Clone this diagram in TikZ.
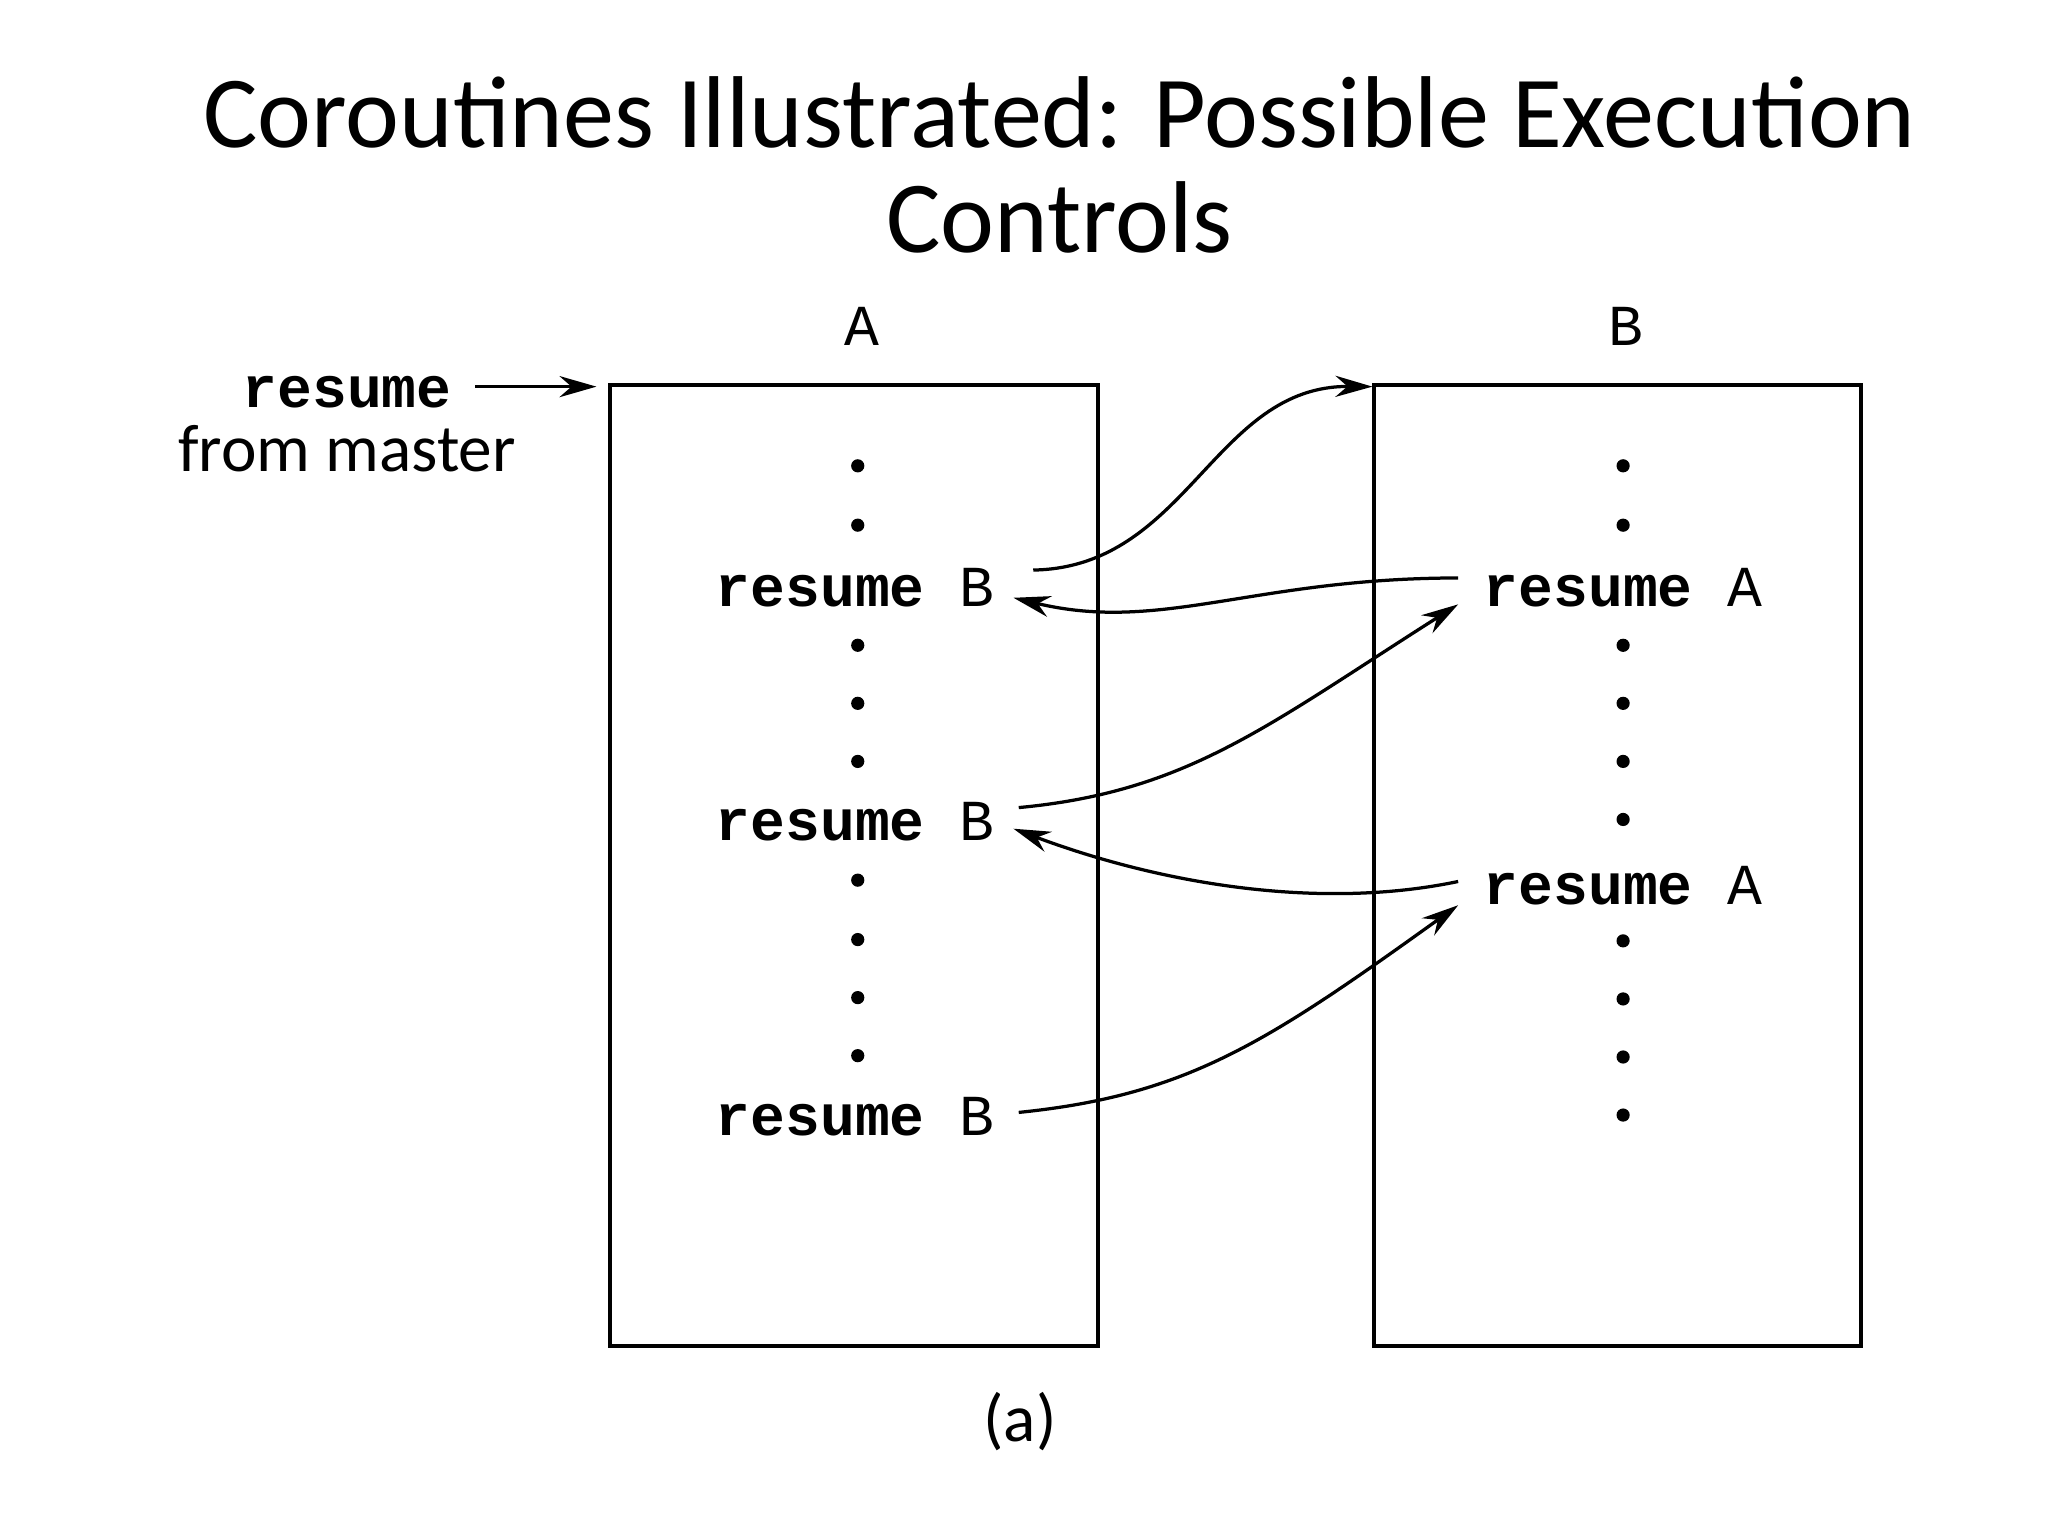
\documentclass[tikz,border=0pt]{standalone}
\usepackage{fontspec}
\setmainfont{Carlito}
\newfontfamily\cmono{Liberation Mono}
\usetikzlibrary{arrows.meta}
\begin{document}
\begin{tikzpicture}[x=0.01cm,y=-0.01cm,
  box/.style={draw,line width=0.9pt},
  code/.style={font=\cmono\fontsize{12.5}{14}\selectfont,inner sep=0pt},
  dotn/.style={circle,fill,inner sep=0pt,minimum size=0.1cm},
  arr/.style={-{Stealth[length=0.28cm,width=0.16cm]},line width=0.7pt}]
\useasboundingbox (0,0) rectangle (1552,1164);
\node (t1) at (803,85) {\fontsize{22}{26}\selectfont Coroutines Illustrated: Possible Execution};
\node (t2) at (803,165) {\fontsize{22}{26}\selectfont Controls};
\draw[box] (462,292) rectangle (832,1020);
\draw[box] (1041,292) rectangle (1410,1020);
\node[code] (la) at (653,247) {A};
\node[code] (lb) at (1232,247) {B};
\node[code] (rm) at (263,297) {\bfseries resume};
\node[font=\fontsize{14.5}{17}\selectfont,inner sep=0pt] (fm) at (263,340) {from master};
\coordinate (m1) at (360,293); \coordinate (m2) at (452,293);
\draw[arr] (m1) -- (m2);
\foreach \y [count=\i] in {353,398,489,533,577,667,712,756,800} \node[dotn] (da\i) at (650,\y) {};
\foreach \y [count=\i] in {353,398,489,533,577,621,713,757,801,845} \node[dotn] (db\i) at (1230,\y) {};
\node[code] (rb1) at (648,445) {\textbf{resume} B};
\node[code] (rb2) at (648,623) {\textbf{resume} B};
\node[code] (rb3) at (648,846) {\textbf{resume} B};
\node[code] (ra1) at (1230,445) {\textbf{resume} A};
\node[code] (ra2) at (1230,671) {\textbf{resume} A};
\coordinate (bt) at (1040,293);
\draw[arr] (783,432) .. controls (900,430) and (920,292) .. (bt);
\draw[arr] (1105,438) .. controls (950,438) and (880,480) .. (768,453);
\draw[arr] (772,612) .. controls (900,600) and (960,550) .. (1105,458);
\draw[arr] (1105,668) .. controls (1000,690) and (880,670) .. (768,628);
\draw[arr] (772,843) .. controls (900,830) and (960,790) .. (1105,686);
\node[font=\fontsize{14.5}{17}\selectfont] (cap) at (773,1077) {(a)};
\end{tikzpicture}
\end{document}
